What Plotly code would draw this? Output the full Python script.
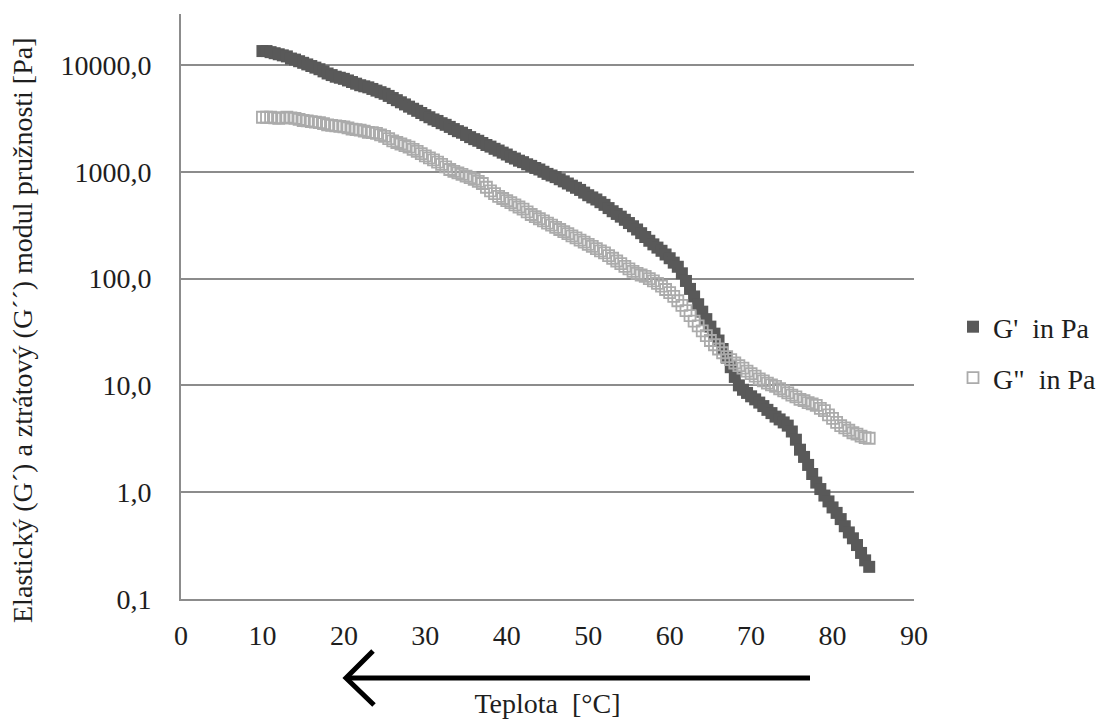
import plotly.graph_objects as go

# Temperature [°C]
temperature = [10.0, 10.5, 11.0, 11.5, 12.0, 12.5, 13.0, 13.5, 14.0, 14.5,
               15.0, 15.5, 16.0, 16.5, 17.0, 17.5, 18.0, 18.5, 19.0, 19.5,
               20.0, 20.5, 21.0, 21.5, 22.0, 22.5, 23.0, 23.5, 24.0, 24.5,
               25.0, 25.5, 26.0, 26.5, 27.0, 27.5, 28.0, 28.5, 29.0, 29.5,
               30.0, 30.5, 31.0, 31.5, 32.0, 32.5, 33.0, 33.5, 34.0, 34.5,
               35.0, 35.5, 36.0, 36.5, 37.0, 37.5, 38.0, 38.5, 39.0, 39.5,
               40.0, 40.5, 41.0, 41.5, 42.0, 42.5, 43.0, 43.5, 44.0, 44.5,
               45.0, 45.5, 46.0, 46.5, 47.0, 47.5, 48.0, 48.5, 49.0, 49.5,
               50.0, 50.5, 51.0, 51.5, 52.0, 52.5, 53.0, 53.5, 54.0, 54.5,
               55.0, 55.5, 56.0, 56.5, 57.0, 57.5, 58.0, 58.5, 59.0, 59.5,
               60.0, 60.5, 61.0, 61.5, 62.0, 62.5, 63.0, 63.5, 64.0, 64.5,
               65.0, 65.5, 66.0, 66.5, 67.0, 67.5, 68.0, 68.5, 69.0, 69.5,
               70.0, 70.5, 71.0, 71.5, 72.0, 72.5, 73.0, 73.5, 74.0, 74.5,
               75.0, 75.5, 76.0, 76.5, 77.0, 77.5, 78.0, 78.5, 79.0, 79.5,
               80.0, 80.5, 81.0, 81.5, 82.0, 82.5, 83.0, 83.5, 84.0, 84.5]

# G' (storage modulus) in Pa
g_storage = [13490, 13490, 13180, 12880, 12590, 12300, 12020, 11480, 11220, 10840,
             10470, 10120, 9770, 9440, 9120, 8710, 8320, 8040, 7760, 7590,
             7410, 7160, 6920, 6680, 6460, 6310, 6170, 5960, 5750, 5560,
             5370, 5130, 4900, 4680, 4470, 4270, 4070, 3890, 3720, 3550,
             3390, 3240, 3090, 2990, 2850, 2750, 2630, 2510, 2400, 2320,
             2210, 2110, 2020, 1950, 1860, 1780, 1720, 1640, 1580, 1510,
             1450, 1380, 1330, 1270, 1230, 1175, 1135, 1085, 1050, 1000,
             955, 923, 891, 851, 813, 776, 741, 708, 676, 638,
             603, 575, 550, 519, 490, 457, 427, 403, 380, 355,
             331, 309, 288, 266, 245, 226, 209, 195, 182, 168,
             155, 141, 129, 112, 95, 80, 68, 57.5, 49, 41.7,
             35.5, 30.5, 26.3, 21.9, 18.2, 14.8, 12.0, 10.0, 9.1, 8.5,
             7.9, 7.4, 6.9, 6.4, 5.9, 5.5, 5.1, 4.8, 4.5, 4.2,
             3.7, 3.1, 2.5, 2.14, 1.8, 1.48, 1.23, 1.07, 0.93, 0.82,
             0.72, 0.64, 0.56, 0.48, 0.42, 0.37, 0.32, 0.27, 0.23, 0.20]

# G'' (loss modulus) in Pa
g_loss = [3240, 3240, 3240, 3200, 3160, 3200, 3240, 3200, 3160, 3090,
          3020, 2990, 2950, 2920, 2880, 2820, 2750, 2720, 2690, 2660,
          2630, 2570, 2510, 2480, 2450, 2400, 2340, 2320, 2290, 2210,
          2140, 2040, 1950, 1880, 1820, 1760, 1700, 1620, 1550, 1480,
          1410, 1350, 1290, 1230, 1175, 1110, 1050, 1010, 977, 944,
          912, 881, 851, 813, 776, 716, 661, 624, 589, 562,
          537, 513, 490, 468, 447, 422, 398, 380, 363, 347,
          331, 316, 302, 288, 275, 263, 251, 240, 229, 219,
          209, 200, 191, 182, 174, 164, 155, 146, 138, 130,
          123, 117, 112, 108, 105, 100, 95, 90, 85, 79,
          74, 68, 62, 56, 50, 45, 40, 36, 32.4, 29.2,
          26.3, 24.0, 21.9, 20.2, 18.6, 17.4, 16.2, 15.3, 14.5, 13.6,
          12.9, 12.2, 11.5, 11.0, 10.5, 10.1, 9.8, 9.3, 8.9, 8.5,
          8.1, 7.8, 7.4, 7.2, 6.9, 6.7, 6.5, 6.1, 5.8, 5.3,
          4.9, 4.5, 4.2, 4.0, 3.8, 3.6, 3.5, 3.35, 3.24, 3.2]

series_names = ["G'\u00a0\u00a0in Pa", 'G"\u00a0\u00a0in Pa']

y_tickvals = [0.1, 1, 10, 100, 1000, 10000]
y_ticktext = ["0,1", "1,0", "10,0", "100,0", "1000,0", "10000,0"]
x_tickvals = [0, 10, 20, 30, 40, 50, 60, 70, 80, 90]

FONT = "Liberation Serif"
TXT = "#1e1e1e"
GRID = "#8c8c8c"

fig = go.Figure()
fig.add_trace(go.Scatter(
    x=temperature, y=g_storage, mode="markers", name=series_names[0],
    marker=dict(symbol="square", size=12, color="#595959", line=dict(width=0)),
    legend="legend"))
fig.add_trace(go.Scatter(
    x=temperature, y=g_loss, mode="markers", name=series_names[1],
    marker=dict(symbol="square-open", size=11, color="#ababab", line=dict(width=1.8, color="#ababab")),
    legend="legend2"))

L, R, T, B = 181, 914, 14, 599
W, H = 1114, 725


def px(x):
    return (x - L) / (R - L)


def py(y):
    return (B - y) / (B - T)


fig.update_layout(
    width=W, height=H,
    margin=dict(l=L, r=W - R, t=T, b=H - B, autoexpand=False),
    paper_bgcolor="white", plot_bgcolor="white",
    font=dict(family=FONT, size=28, color=TXT),
    xaxis=dict(range=[0, 90], tickvals=x_tickvals, showgrid=False, zeroline=False,
               showline=True, linecolor=GRID, linewidth=2, ticks="", ticklabelstandoff=10,
               tickfont=dict(family=FONT, size=28, color=TXT),
               title=dict(text="Teplota\u00a0\u00a0[°C]", font=dict(family=FONT, size=28, color=TXT), standoff=44)),
    yaxis=dict(type="log", range=[-1, 4.477], tickvals=y_tickvals, ticktext=y_ticktext,
               showgrid=True, gridcolor=GRID, gridwidth=1.5, zeroline=False,
               showline=True, linecolor=GRID, linewidth=2, ticks="", ticklabelstandoff=22,
               tickfont=dict(family=FONT, size=28, color=TXT)),
    legend=dict(x=px(953), y=py(327), xanchor="left", yanchor="middle",
                font=dict(family=FONT, size=28, color=TXT), bgcolor="rgba(0,0,0,0)", itemwidth=30),
    legend2=dict(x=px(953), y=py(378), xanchor="left", yanchor="middle",
                 font=dict(family=FONT, size=28, color=TXT), bgcolor="rgba(0,0,0,0)", itemwidth=30),
    showlegend=True,
)

fig.add_annotation(
    text="Elastický (G´) a ztrátový (G´´) modul pružnosti [Pa]",
    xref="paper", yref="paper", x=px(22), y=py(331), textangle=-90,
    showarrow=False, font=dict(family=FONT, size=28, color=TXT), xanchor="center", yanchor="middle")

# Direction arrow (cooling) below the x axis
fig.add_shape(type="line", xref="paper", yref="paper",
              x0=px(810), y0=py(678), x1=px(347), y1=py(678),
              line=dict(color="black", width=5))
fig.add_shape(type="path", xref="paper", yref="paper",
              path=f"M {px(373)},{py(651)} L {px(346)},{py(678)} L {px(374)},{py(705)}",
              line=dict(color="black", width=5))

fig.write_html("out.html")
